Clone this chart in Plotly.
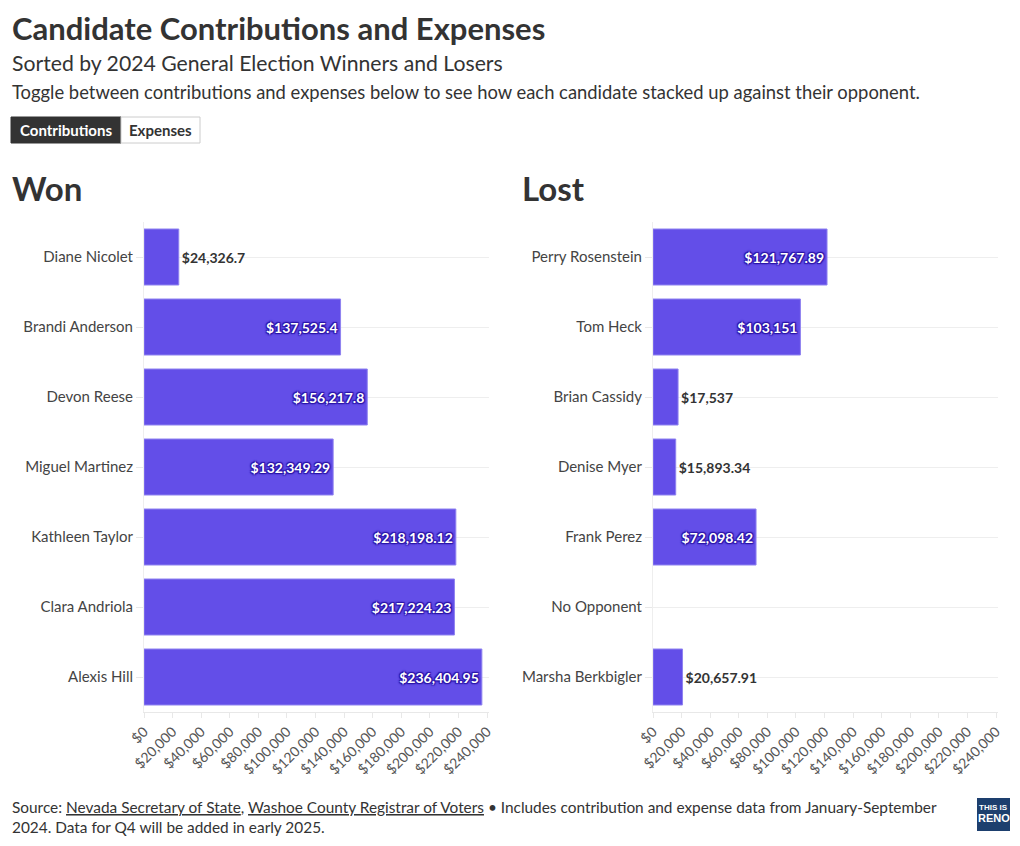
import plotly.graph_objects as go

FONT = "Source Sans Pro, Lato, Roboto, sans-serif"

won_names = ["Diane Nicolet", "Brandi Anderson", "Devon Reese", "Miguel Martinez",
             "Kathleen Taylor", "Clara Andriola", "Alexis Hill"]
won_values = [24326.7, 137525.4, 156217.8, 132349.29, 218198.12, 217224.23, 236404.95]

lost_names = ["Perry Rosenstein", "Tom Heck", "Brian Cassidy", "Denise Myer",
              "Frank Perez", "No Opponent", "Marsha Berkbigler"]
lost_values = [121767.89, 103151, 17537, 15893.34, 72098.42, None, 20657.91]

tick_values = list(range(0, 240001, 20000))
tick_labels = ["${:,}".format(v) for v in tick_values]

BAR = "#634EE8"
W, H = 1020, 846


def fmt(v):
    if v is None:
        return ""
    s = "{:,.2f}".format(v).rstrip("0").rstrip(".")
    return "$" + s


def px(x):
    return x / W


def py(y):
    return 1 - y / H


fig = go.Figure()
shadow = "1px 1px 1px #2a14a8, -1px -1px 1px #2a14a8, 1px -1px 1px #2a14a8, -1px 1px 1px #2a14a8, 0px 0px 3px #2a14a8"
for names, vals, xa, ya in [(won_names, won_values, "x", "y"), (lost_names, lost_values, "x2", "y2")]:
    fig.add_trace(go.Bar(
        y=names, x=vals, orientation="h", xaxis=xa, yaxis=ya,
        marker=dict(color=BAR, line=dict(color="#8f82f0", width=1)),
        text=[fmt(v) for v in vals], textposition="auto",
        insidetextanchor="end",
        insidetextfont=dict(family=FONT, size=14, color="white", weight="bold", shadow=shadow),
        outsidetextfont=dict(family=FONT, size=14, color="#333333", weight="bold"),
        cliponaxis=False, showlegend=False, hoverinfo="skip",
    ))

xr = [0, 241400]
axis_common = dict(
    range=xr, tickvals=tick_values, ticktext=tick_labels, tickangle=-45,
    showgrid=False, zeroline=False, showline=True, linecolor="#e8e8e8", linewidth=1,
    ticks="outside", ticklen=5, tickcolor="#e8e8e8",
    tickfont=dict(family=FONT, size=14, color="#555555"), automargin=False,
)
yaxis_common = dict(
    autorange="reversed", showgrid=True, gridcolor="#eeeeee", zeroline=False,
    showline=True, linecolor="#eeeeee", ticks="outside", ticklen=7, tickcolor="#e8e8e8",
    tickfont=dict(family=FONT, size=15, color="#444444"), automargin=False,
    ticklabelstandoff=0,
)
ydom = [py(712), py(222)]
fig.update_layout(
    width=W, height=H, margin=dict(l=0, r=0, t=0, b=0),
    paper_bgcolor="white", plot_bgcolor="white", bargap=0.2,
    xaxis=dict(domain=[px(144), px(489)], anchor="y", **axis_common),
    xaxis2=dict(domain=[px(653), px(998)], anchor="y2", **axis_common),
    yaxis=dict(domain=ydom, anchor="x", **yaxis_common),
    yaxis2=dict(domain=ydom, anchor="x2", **yaxis_common),
    font=dict(family=FONT, color="#333333"),
)

anns = [
    dict(text="<b>Candidate Contributions and Expenses</b>", x=px(10), y=py(28), size=31, color="#333333"),
    dict(text="Sorted by 2024 General Election Winners and Losers", x=px(10), y=py(63), size=21.2, color="#333333"),
    dict(text="Toggle between contributions and expenses below to see how each candidate stacked up against their opponent.",
         x=px(10), y=py(92), size=18.4, color="#333333"),
    dict(text="<b>Won</b>", x=px(10), y=py(188), size=33, color="#333333"),
    dict(text="<b>Lost</b>", x=px(520), y=py(188), size=33, color="#333333"),
    dict(text="Source: <u>Nevada Secretary of State</u>, <u>Washoe County Registrar of Voters</u> \u2022 Includes contribution and expense data from January-September<br>2024. Data for Q4 will be added in early 2025.",
         x=px(10), y=py(817), size=15.4, color="#333333"),
]
for a in anns:
    fig.add_annotation(text=a["text"], x=a["x"], y=a["y"], xref="paper", yref="paper",
                       xanchor="left", yanchor="middle", showarrow=False, align="left",
                       font=dict(family=FONT, size=a["size"], color=a["color"]))

# toggle buttons
fig.add_shape(type="rect", xref="paper", yref="paper", x0=px(11), x1=px(121), y0=py(143), y1=py(117),
              fillcolor="#333333", line=dict(color="#333333", width=1), layer="above")
fig.add_shape(type="rect", xref="paper", yref="paper", x0=px(121), x1=px(200), y0=py(143), y1=py(117),
              fillcolor="white", line=dict(color="#cccccc", width=1), layer="above")
fig.add_annotation(text="<b>Contributions</b>", x=px(66), y=py(130), xref="paper", yref="paper",
                   xanchor="center", yanchor="middle",
                   showarrow=False, font=dict(family=FONT, size=15, color="white"))
fig.add_annotation(text="<b>Expenses</b>", x=px(160.5), y=py(130), xref="paper", yref="paper",
                   xanchor="center", yanchor="middle",
                   showarrow=False, font=dict(family=FONT, size=15, color="#333333"))

# logo
fig.add_shape(type="rect", xref="paper", yref="paper", x0=px(977), x1=px(1010), y0=py(831), y1=py(798),
              fillcolor="#1d3f6e", line=dict(width=0))
fig.add_annotation(text="<b>THIS IS</b>", x=px(993.5), y=py(807), xref="paper", yref="paper",
                   xanchor="center", yanchor="middle",
                   showarrow=False, font=dict(family="Liberation Sans Narrow, sans-serif", size=8, color="white"))
fig.add_annotation(text="<b>RENO</b>", x=px(993.5), y=py(818), xref="paper", yref="paper",
                   xanchor="center", yanchor="middle",
                   showarrow=False, font=dict(family="Liberation Sans Narrow, sans-serif", size=11, color="white"))

fig.write_html("out.html")
